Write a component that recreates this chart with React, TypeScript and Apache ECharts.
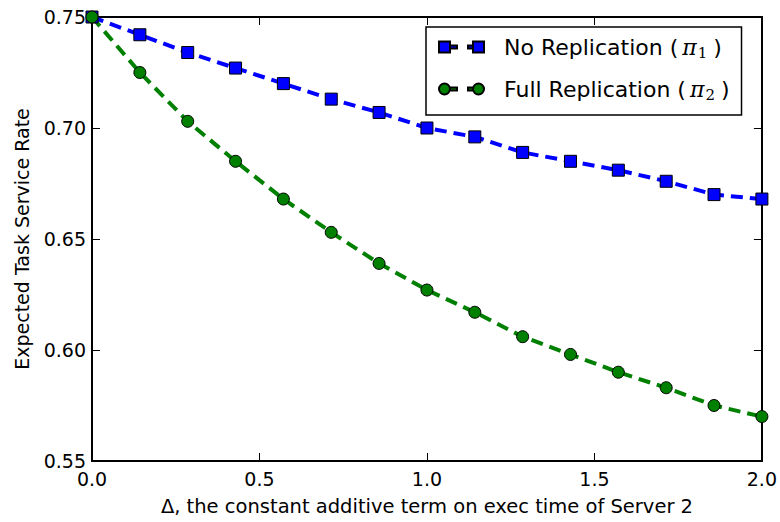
import React, { useEffect, useRef } from "react";
import * as echarts from "echarts";

const xValues = [0, 0.1429, 0.2857, 0.4286, 0.5714, 0.7143, 0.8571, 1.0, 1.1429, 1.2857, 1.4286, 1.5714, 1.7143, 1.8571, 2.0];
const noReplication = [0.750, 0.742, 0.734, 0.727, 0.720, 0.713, 0.707, 0.700, 0.696, 0.689, 0.685, 0.681, 0.676, 0.670, 0.668];
const fullReplication = [0.750, 0.725, 0.703, 0.685, 0.668, 0.653, 0.639, 0.627, 0.617, 0.606, 0.598, 0.590, 0.583, 0.575, 0.570];
const seriesNames = ["No Replication", "Full Replication"];
const seriesSubscripts = ["1", "2"];
const xTitle = "\u0394, the constant additive term on exec time of Server 2";
const yTitle = "Expected Task Service Rate";

const FONT = "DejaVu Sans";

const squareIcon =
  "path://M0,0h11v11h-11Z M11,4h7v3h-7Z M29,4h5v3h-5Z M34,0h11v11h-11Z";
const circleIcon =
  "path://M0,5.5a5.5,5.5 0 1,0 11,0a5.5,5.5 0 1,0 -11,0Z M11,4h7v3h-7Z M29,4h5v3h-5Z M34,5.5a5.5,5.5 0 1,0 11,0a5.5,5.5 0 1,0 -11,0Z";

export default function App() {
  const ref = useRef<HTMLDivElement>(null);
  useEffect(() => {
    if (!ref.current) return;
    const chart = echarts.init(ref.current, undefined, { renderer: "svg" });
    const axisLine = { show: true, onZero: false, lineStyle: { color: "#000", width: 2 } };
    const axisTick = { show: true, inside: true, length: 8, lineStyle: { color: "#000", width: 1 } };
    const labelStyle = { color: "#000", fontSize: 19, fontFamily: FONT };
    const toPairs = (ys: number[]) => ys.map((y, i) => [xValues[i], y]);
    chart.setOption({
      animation: false,
      backgroundColor: "#fff",
      grid: { left: 92, right: 18, top: 17, bottom: 61, show: false },
      xAxis: [
        {
          type: "value",
          min: 0,
          max: 2,
          interval: 0.5,
          position: "bottom",
          axisLine,
          axisTick,
          splitLine: { show: false },
          axisLabel: { ...labelStyle, margin: 8, formatter: (v: number) => v.toFixed(1) },
          name: xTitle,
          nameLocation: "middle",
          nameGap: 35,
          nameTextStyle: { ...labelStyle, fontSize: 19.5 },
        },
        {
          type: "value",
          min: 0,
          max: 2,
          interval: 0.5,
          position: "top",
          axisLine,
          axisTick,
          splitLine: { show: false },
          axisLabel: { show: false },
        },
      ],
      yAxis: [
        {
          type: "value",
          min: 0.55,
          max: 0.75,
          interval: 0.05,
          position: "left",
          axisLine,
          axisTick,
          splitLine: { show: false },
          axisLabel: { ...labelStyle, margin: 6, formatter: (v: number) => v.toFixed(2) },
          name: yTitle,
          nameLocation: "middle",
          nameGap: 61,
          nameRotate: 90,
          nameTextStyle: { ...labelStyle },
        },
        {
          type: "value",
          min: 0.55,
          max: 0.75,
          interval: 0.05,
          position: "right",
          axisLine,
          axisTick,
          splitLine: { show: false },
          axisLabel: { show: false },
        },
      ],
      legend: {
        orient: "vertical",
        left: 426,
        top: 27,
        padding: [7, 12, 13, 12],
        itemGap: 16,
        itemWidth: 45,
        itemHeight: 11,
        borderColor: "#000",
        borderWidth: 1.5,
        backgroundColor: "#fff",
        data: [
          { name: seriesNames[0], icon: squareIcon },
          { name: seriesNames[1], icon: circleIcon },
        ],
        formatter: (name: string) => {
          const idx = seriesNames.indexOf(name);
          return `${name} ({pi|\u03c0}{sub|${seriesSubscripts[idx]}})`;
        },
        textStyle: {
          color: "#000",
          fontSize: 22,
          fontFamily: FONT,
          lineHeight: 26,
          padding: [0, 0, 0, 15],
          rich: {
            pi: { fontFamily: "DejaVu Serif", fontStyle: "italic", fontSize: 22, lineHeight: 26, color: "#000", padding: [0, 1, 0, 4] },
            sub: { fontFamily: "DejaVu Serif", fontSize: 15, lineHeight: 14, verticalAlign: "bottom", color: "#000", padding: [0, 6, 0, 0] },
          },
        },
      },
      series: [
        {
          name: seriesNames[0],
          type: "line",
          data: toPairs(noReplication),
          symbol: "rect",
          symbolSize: 12,
          showAllSymbol: true,
          lineStyle: { color: "#0000ff", width: 4, type: [12, 7] },
          itemStyle: { color: "#0000ff", borderColor: "#000", borderWidth: 1 },
        },
        {
          name: seriesNames[1],
          type: "line",
          data: toPairs(fullReplication),
          symbol: "circle",
          symbolSize: 12,
          showAllSymbol: true,
          lineStyle: { color: "#008000", width: 4, type: [12, 7] },
          itemStyle: { color: "#008000", borderColor: "#000", borderWidth: 1 },
        },
      ],
    });
    return () => chart.dispose();
  }, []);
  return (
    <div
      ref={ref}
      style={{ position: "fixed", left: 0, top: 0, width: 780, height: 522 }}
    />
  );
}
